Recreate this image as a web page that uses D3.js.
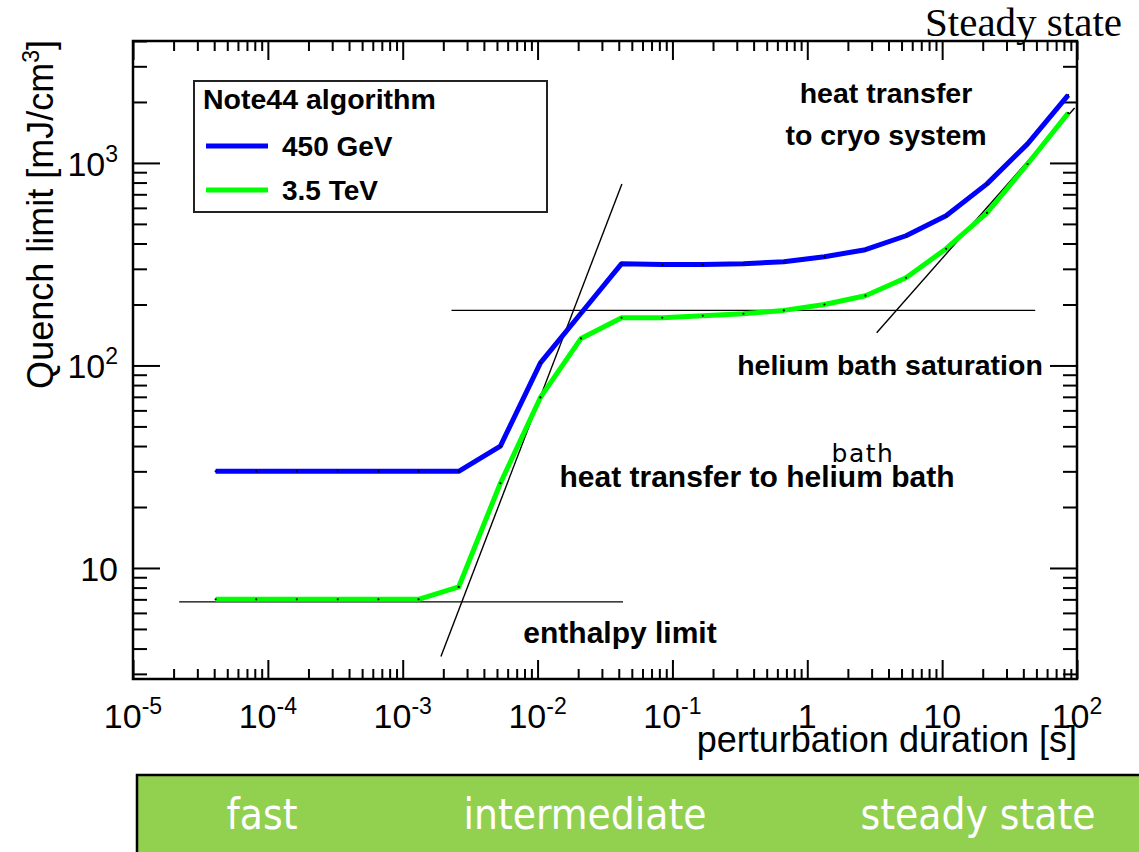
<!DOCTYPE html>
<html>
<head>
<meta charset="utf-8">
<title>Quench limit vs perturbation duration</title>
<script src="https://cdn.jsdelivr.net/npm/d3@7"></script>
<style>
  body { margin: 0; background: #fff; }
  svg { display: block; }
  text { fill: #000; }
  .sans { font-family: "Liberation Sans", Arial, sans-serif; }
  .note { font-family: "Liberation Sans", Arial, sans-serif; font-weight: bold; }
  .tick line { stroke-width: 2; }
</style>
</head>
<body>
<svg id="chart" width="1139" height="852"></svg>
<script>
  // sampled perturbation durations [s]
  durations = [4.1e-5, 8.2e-5, 1.64e-4, 3.3e-4, 6.6e-4, 1.31e-3, 2.6e-3, 5.3e-3, 0.0105, 0.021, 0.042,
    0.084, 0.168, 0.336, 0.67, 1.34, 2.7, 5.4, 10.7, 21.5, 43, 86];

  // quench limits [mJ/cm3]
  limit450GeV = [30, 30, 30, 30, 30, 30, 30, 40, 103, 181, 318,
    315, 315, 318, 325, 344, 373, 437, 548, 788, 1242, 2163];
  limit35TeV = [7, 7, 7, 7, 7, 7, 8.06, 26.2, 69.5, 136, 172,
    172, 176, 180, 187, 200, 221, 271, 377, 567, 988, 1762];

  seriesNames = ["450 GeV", "3.5 TeV"];
  seriesColours = ["#0000ff", "#00ff00"];

  // thin guide lines: [start, end] in data units
  guideX = [[2.2e-5, 0.043], [2.3e-3, 49], [1.92e-3, 0.0422], [3.27, 96]];
  guideY = [[6.8, 6.8], [187, 187], [3.65, 788], [145, 1866]];

  notes = ["heat transfer", "to cryo system", "helium bath saturation", "heat transfer to helium bath", "enthalpy limit"];
  phases = ["fast", "intermediate", "steady state"];

  // layout
  plot = { left: 133, right: 1077, top: 41, bottom: 679 };
  notePos = [[886, 103], [886, 145], [890, 375], [757, 487], [620, 643]];
  noteSize = [28.5, 28.5, 28.5, 30, 30];
  phasePos = [262, 585, 978];

  svg = d3.select("#chart");

  x = d3.scaleLog().domain([1e-5, 1e2]).range([plot.left, plot.right]);
  y = d3.scaleLog().domain([2.83, 4000]).range([plot.bottom, plot.top]);

  function isMajor(v) {
    var l = Math.log10(v);
    return Math.abs(l - Math.round(l)) < 1e-6;
  }

  xMajor = x.ticks().filter(isMajor);
  xMinor = x.ticks().filter(function(v) { return !isMajor(v); });
  yMajor = y.ticks().filter(isMajor);
  yMinor = y.ticks().filter(function(v) { return !isMajor(v); });

  function tickGroup(axis, values, size, transform) {
    var g = svg.append("g")
      .attr("transform", transform)
      .call(axis.tickValues(values).tickSizeInner(size).tickSizeOuter(0).tickFormat(""));
    g.select(".domain").remove();
  }

  // ROOT style ticks on all four sides
  tickGroup(d3.axisBottom(x), xMajor, -19, "translate(0," + plot.bottom + ")");
  tickGroup(d3.axisBottom(x), xMinor, -10, "translate(0," + plot.bottom + ")");
  tickGroup(d3.axisTop(x), xMajor, -19, "translate(0," + plot.top + ")");
  tickGroup(d3.axisTop(x), xMinor, -10, "translate(0," + plot.top + ")");
  tickGroup(d3.axisLeft(y), yMajor, -27, "translate(" + plot.left + ",0)");
  tickGroup(d3.axisLeft(y), yMinor, -14, "translate(" + plot.left + ",0)");
  tickGroup(d3.axisRight(y), yMajor, -27, "translate(" + plot.right + ",0)");
  tickGroup(d3.axisRight(y), yMinor, -14, "translate(" + plot.right + ",0)");

  svg.append("rect")
    .attr("x", plot.left)
    .attr("y", plot.top)
    .attr("width", plot.right - plot.left)
    .attr("height", plot.bottom - plot.top)
    .attr("fill", "none")
    .attr("stroke", "#000")
    .attr("stroke-width", 2.5);

  // tick labels with exponents
  function tickLabel(sel, v) {
    var e = Math.round(Math.log10(v));
    if (e === 0 || e === 1) {
      sel.text(e === 0 ? "1" : "10");
    } else {
      sel.append("tspan").text("10");
      sel.append("tspan")
        .attr("dy", -14)
        .style("font-size", "23px")
        .text(e);
    }
  }

  xMajor.forEach(function(v) {
    svg.append("text")
      .attr("class", "sans")
      .attr("x", x(v))
      .attr("y", 728)
      .attr("text-anchor", "middle")
      .style("font-size", "34px")
      .call(tickLabel, v);
  });

  yMajor.forEach(function(v) {
    svg.append("text")
      .attr("class", "sans")
      .attr("x", 118)
      .attr("y", y(v) + 13)
      .attr("text-anchor", "end")
      .style("font-size", "34px")
      .call(tickLabel, v);
  });

  // axis titles
  svg.append("text")
    .attr("class", "sans")
    .attr("x", plot.right)
    .attr("y", 752)
    .attr("text-anchor", "end")
    .style("font-size", "36px")
    .text("perturbation duration [s]");

  yTitle = svg.append("text")
    .attr("class", "sans")
    .attr("transform", "translate(53,40) rotate(-90)")
    .attr("text-anchor", "end")
    .style("font-size", "36px");
  yTitle.append("tspan").text("Quench limit [mJ/cm");
  yTitle.append("tspan").attr("dy", -14).style("font-size", "23px").text("3");
  yTitle.append("tspan").attr("dy", 14).text("]");

  // guide lines
  guideX.forEach(function(gx, i) {
    svg.append("line")
      .attr("x1", x(gx[0]))
      .attr("y1", y(guideY[i][0]))
      .attr("x2", x(gx[1]))
      .attr("y2", y(guideY[i][1]))
      .attr("stroke", "#000")
      .attr("stroke-width", 1.4);
  });

  // curves
  line = d3.line()
    .x(function(d) { return x(d[0]); })
    .y(function(d) { return y(d[1]); });

  [limit450GeV, limit35TeV].forEach(function(vals, i) {
    var pts = durations.map(function(d, j) { return [d, vals[j]]; });
    svg.append("path")
      .datum(pts)
      .attr("d", line)
      .attr("fill", "none")
      .attr("stroke", seriesColours[i])
      .attr("stroke-width", 5)
      .attr("stroke-linejoin", "round");
    svg.append("g")
      .selectAll("circle")
      .data(pts)
      .join("circle")
        .attr("cx", function(d) { return x(d[0]); })
        .attr("cy", function(d) { return y(d[1]); })
        .attr("r", 1.1)
        .attr("fill", "#000");
  });

  // legend
  legend = svg.append("g").attr("transform", "translate(194,81)");
  legend.append("rect")
    .attr("width", 353)
    .attr("height", 131)
    .attr("fill", "#fff")
    .attr("stroke", "#222")
    .attr("stroke-width", 2);
  legend.append("text")
    .attr("class", "note")
    .attr("x", 9)
    .attr("y", 28)
    .style("font-size", "28.5px")
    .text("Note44 algorithm");
  seriesNames.forEach(function(name, i) {
    legend.append("line")
      .attr("x1", 12)
      .attr("x2", 74)
      .attr("y1", 65 + i * 44)
      .attr("y2", 65 + i * 44)
      .attr("stroke", seriesColours[i])
      .attr("stroke-width", 5);
    legend.append("text")
      .attr("class", "note")
      .attr("x", 88)
      .attr("y", 75 + i * 44)
      .style("font-size", "28px")
      .text(name);
  });

  // annotations
  notes.forEach(function(t, i) {
    svg.append("text")
      .attr("class", "note")
      .attr("x", notePos[i][0])
      .attr("y", notePos[i][1])
      .attr("text-anchor", "middle")
      .style("font-size", noteSize[i] + "px")
      .text(t);
  });

  svg.append("text")
    .attr("x", 863)
    .attr("y", 462)
    .attr("text-anchor", "middle")
    .style("font-family", "'DejaVu Sans', sans-serif")
    .style("font-size", "25px")
    .style("letter-spacing", "1.5px")
    .text("bath");

  svg.append("text")
    .attr("x", 1122)
    .attr("y", 36)
    .attr("text-anchor", "end")
    .style("font-family", "'Liberation Serif', serif")
    .style("font-size", "41px")
    .text("Steady state");

  // phase band
  svg.append("rect")
    .attr("x", 137)
    .attr("y", 775)
    .attr("width", 1010)
    .attr("height", 85)
    .attr("fill", "#92d050")
    .attr("stroke", "#000")
    .attr("stroke-width", 2.5);

  phases.forEach(function(p, i) {
    svg.append("text")
      .attr("x", phasePos[i])
      .attr("y", 829)
      .attr("text-anchor", "middle")
      .style("font-family", "'DejaVu Sans Condensed', 'DejaVu Sans', sans-serif")
      .style("font-size", "42px")
      .style("fill", "#fff")
      .text(p);
  });
</script>
</body>
</html>
